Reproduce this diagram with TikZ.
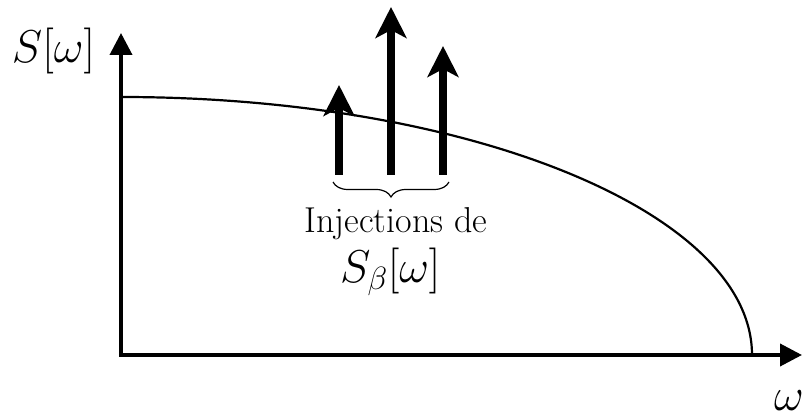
\RequirePackage{fix-cm}
\documentclass[tikz,border=0pt]{standalone}
\usetikzlibrary{arrows.meta,decorations.pathreplacing}
\tikzset{
  axis/.style={line width=3.8pt,-{Triangle[length=22pt,width=22pt]}},
  injarrow/.style={line width=8pt,-{Stealth[length=31pt,width=31pt,inset=8pt]}},
  curveline/.style={line width=2.2pt},
  lbl/.style={inner sep=0pt,outer sep=0pt},
  bigfont/.style={font=\fontsize{46}{50}\selectfont},
  midfont/.style={font=\fontsize{36}{40}\selectfont},
}
\begin{document}
\begin{tikzpicture}[x=1pt,y=1pt]
\useasboundingbox (0,0) rectangle (805,412);
% axes
\coordinate (O) at (121,57);
\coordinate (ytip) at (121,379);
\coordinate (xtip) at (802,57);
\draw[axis] (121,55) -- (ytip);
\draw[axis] (119,57) -- (xtip);
% curve
\coordinate (cstart) at (121,315);
\draw[curveline] (cstart) arc[start angle=90,end angle=0,x radius=631,y radius=258];
% injection arrows
\coordinate (a1b) at (339,237); \coordinate (a1t) at (339,327);
\coordinate (a2b) at (391,237); \coordinate (a2t) at (391,405);
\coordinate (a3b) at (443,237); \coordinate (a3t) at (443,366);
\draw[injarrow] (a1b) -- (a1t);
\draw[injarrow] (a2b) -- (a2t);
\draw[injarrow] (a3b) -- (a3t);
% brace
\coordinate (br) at (449,230);
\coordinate (bl) at (333,230);
\draw[line width=1.2pt,decorate,decoration={brace,amplitude=15pt}] (br) -- (bl);
% labels
\node[lbl,midfont,anchor=base] (inj) at (396,179) {Injections de};
\node[lbl,bigfont,anchor=base west] (sb) at (340,129) {$S_{\beta}[\omega]$};
\node[lbl,bigfont,anchor=base west] (sy) at (12,349) {$S[\omega]$};
\node[lbl,bigfont,anchor=base west] (wx) at (774,2) {$\omega$};
\end{tikzpicture}
\end{document}
